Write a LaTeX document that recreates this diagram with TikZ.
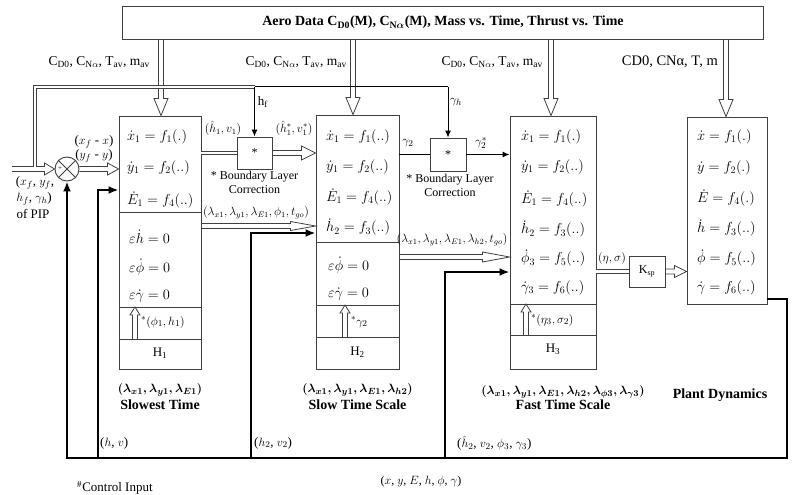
\documentclass[tikz,border=0pt]{standalone}
\usepackage{fontspec}
\setmainfont{Liberation Serif}
\usetikzlibrary{calc,arrows.meta}
\newcommand\HArr[4]{\draw[hol] let \p1=(#1), \p2=(#2) in (\x1,\y2+2.5pt) -- (\x2-#4,\y2+2.5pt) -- (\x2-#4,\y2+#3) -- (\x2,\y2) -- (\x2-#4,\y2-#3) -- (\x2-#4,\y2-2.5pt) -- (\x1,\y2-2.5pt);}
\newcommand\DArr[4]{\draw[hol] let \p1=(#1), \p2=(#2) in (\x2-2.5pt,\y1) -- (\x2-2.5pt,\y2+#4) -- (\x2-#3,\y2+#4) -- (\x2,\y2) -- (\x2+#3,\y2+#4) -- (\x2+2.5pt,\y2+#4) -- (\x2+2.5pt,\y1);}
\newcommand\UArr[4]{\draw[hol] let \p1=(#1), \p2=(#2) in (\x2-2.5pt,\y1) -- (\x2-2.5pt,\y2-#4) -- (\x2-#3,\y2-#4) -- (\x2,\y2) -- (\x2+#3,\y2-#4) -- (\x2+2.5pt,\y2-#4) -- (\x2+2.5pt,\y1);}
\tikzset{
 box/.style={draw=black!75, line width=0.9pt, inner sep=0pt},
 hol/.style={draw=black!75, line width=0.8pt, fill=none},
 dbl/.style={draw=black!75, double=white, double distance=2.5pt, line width=0.8pt},
 thinl/.style={draw=black, line width=1pt},
 fb/.style={draw=black, line width=2.2pt},
 eq/.style={anchor=west, inner sep=0pt, font=\fontsize{14.5}{16}\selectfont},
 lbl/.style={inner sep=0pt, font=\fontsize{12}{14}\selectfont},
 lbm/.style={inner sep=0pt, font=\fontsize{13}{15}\selectfont},
 bl/.style={inner sep=0pt, font=\fontsize{14}{16}\selectfont\bfseries\boldmath},
 blm/.style={inner sep=0pt, font=\fontsize{13}{15}\selectfont\bfseries\boldmath},
 tip/.style={-{Latex[length=7pt,width=6pt]}},
 ftip/.style={-{Latex[length=10pt,width=8pt]}},
}
\begin{document}
\begin{tikzpicture}[x=1pt,y=-1pt]
\useasboundingbox (0,0) rectangle (801,495);
% main boxes
\node[box, minimum width=641pt, minimum height=33pt, font=\fontsize{14}{16}\selectfont\bfseries\boldmath] (aero) at (443,22.5) {Aero Data C\textsubscript{D0}(M), C\textsubscript{N$\alpha$}(M), Mass vs. Time, Thrust vs. Time};
\node[box, minimum width=82pt, minimum height=253pt] (H1) at (160,242.5) {};
\node[box, minimum width=83pt, minimum height=254pt] (H2) at (357.5,242) {};
\node[box, minimum width=86pt, minimum height=253pt] (H3) at (553,242.5) {};
\node[box, minimum width=80pt, minimum height=187pt] (P) at (727,210.5) {};
\node[box, minimum width=35pt, minimum height=32pt, font=\fontsize{12}{14}\selectfont] (B1) at (254.5,153) {*};
\node[box, minimum width=36pt, minimum height=33pt, font=\fontsize{12}{14}\selectfont] (B2) at (448,154.5) {*};
\node[box, minimum width=36pt, minimum height=31pt, font=\fontsize{12}{14}\selectfont] (K) at (647,271.5) {K\textsubscript{sp}};
\node[box, circle, minimum size=24pt] (sum) at (67,169) {};
\draw[box] (sum.north east) -- (sum.south west) (sum.north west) -- (sum.south east);
\node[inner sep=0pt, font=\fontsize{7}{8}\selectfont] (plus) at (60,169) {+};
% separators
\foreach \yy in {212,307,339} \draw[box] (H1.west |- 0,\yy) -- (H1.east |- 0,\yy);
\foreach \yy in {242,305,337} \draw[box] (H2.west |- 0,\yy) -- (H2.east |- 0,\yy);
\foreach \yy in {304,335} \draw[box] (H3.west |- 0,\yy) -- (H3.east |- 0,\yy);
% H1 contents
\node[eq] (h1a) at (127,137) {$\dot{x}_1 = f_1(.)$};
\node[eq] (h1b) at (127,168) {$\dot{y}_1 = f_2(..)$};
\node[eq] (h1c) at (127,200) {$\dot{E}_1 = f_4(..)$};
\node[eq] (h1d) at (129,237) {$\varepsilon\dot{h} = 0$};
\node[eq] (h1e) at (129,267) {$\varepsilon\dot{\phi} = 0$};
\node[eq] (h1f) at (129,296) {$\varepsilon\dot{\gamma} = 0$};
\node[lbm, anchor=west] (h1u) at (141,322) {$^*(\phi_1, h_1)$};
\node[lbm] (h1n) at (160,353) {H\textsubscript{1}};
% H2 contents
\node[eq] (h2a) at (326,137) {$\dot{x}_1 = f_1(..)$};
\node[eq] (h2b) at (326,167) {$\dot{y}_1 = f_2(..)$};
\node[eq] (h2c) at (326,197) {$\dot{E}_1 = f_4(..)$};
\node[eq] (h2d) at (326,227) {$\dot{h}_2 = f_3(..)$};
\node[eq] (h2e) at (328,265) {$\varepsilon\dot{\phi} = 0$};
\node[eq] (h2f) at (328,294) {$\varepsilon\dot{\gamma} = 0$};
\node[lbm, anchor=west] (h2u) at (351,322) {$^*\gamma_2$};
\node[lbm] (h2n) at (357.5,352) {H\textsubscript{2}};
% H3 contents
\node[eq] (h3a) at (521,137) {$\dot{x}_1 = f_1(.)$};
\node[eq] (h3b) at (521,167) {$\dot{y}_1 = f_2(..)$};
\node[eq] (h3c) at (521,199) {$\dot{E}_1 = f_4(..)$};
\node[eq] (h3d) at (521,229) {$\dot{h}_2 = f_3(..)$};
\node[eq] (h3e) at (521,258) {$\dot{\phi}_3 = f_5(..)$};
\node[eq] (h3f) at (521,288) {$\dot{\gamma}_3 = f_6(..)$};
\node[lbm, anchor=west] (h3u) at (531,320) {$^*(\eta_3, \sigma_2)$};
\node[lbm] (h3n) at (553,349) {H\textsubscript{3}};
% plant contents
\node[eq] (pa) at (697,137) {$\dot{x} = f_1(.)$};
\node[eq] (pb) at (697,168) {$\dot{y} = f_2(.)$};
\node[eq] (pc) at (697,198) {$\dot{E} = f_4(.)$};
\node[eq] (pd) at (697,228) {$\dot{h} = f_3(..)$};
\node[eq] (pe) at (697,258) {$\dot{\phi} = f_5(..)$};
\node[eq] (pf) at (697,288) {$\dot{\gamma} = f_6(..)$};
% subtitles
\node[blm] (s1a) at (160,390) {$(\lambda_{x1}, \lambda_{y1}, \lambda_{E1})$};
\node[bl] (s1b) at (160,405) {Slowest Time};
\node[blm] (s2a) at (357.5,390) {$(\lambda_{x1}, \lambda_{y1}, \lambda_{E1}, \lambda_{h2})$};
\node[bl] (s2b) at (357.5,405) {Slow Time Scale};
\node[blm] (s3a) at (563,392) {$(\lambda_{x1}, \lambda_{y1}, \lambda_{E1}, \lambda_{h2}, \lambda_{\phi3}, \lambda_{\gamma3})$};
\node[bl] (s3b) at (563,405) {Fast Time Scale};
\node[bl] (s4) at (720,395) {Plant Dynamics};
% aero arrows
\coordinate (t1) at (161,0 |- H1.north);
\coordinate (t2) at (353,0 |- H2.north);
\coordinate (t3) at (551,0 |- H3.north);
\coordinate (t4) at (726,0 |- P.north);
\DArr{aero.south -| t1}{t1}{7pt}{17pt}
\DArr{aero.south -| t2}{t2}{7pt}{17pt}
\DArr{aero.south -| t3}{t3}{7pt}{17pt}
\DArr{aero.south -| t4}{t4}{7pt}{17pt}
\node[lbm, anchor=east, font=\fontsize{13.5}{15}\selectfont] (c1) at (150,62) {C\textsubscript{D0}, C\textsubscript{N$\alpha$}, T\textsubscript{av}, m\textsubscript{av}};
\node[lbm, anchor=east, font=\fontsize{13.5}{15}\selectfont] (c2) at (347,62) {C\textsubscript{D0}, C\textsubscript{N$\alpha$}, T\textsubscript{av}, m\textsubscript{av}};
\node[lbm, anchor=east, font=\fontsize{13.5}{15}\selectfont] (c3) at (543,62) {C\textsubscript{D0}, C\textsubscript{N$\alpha$}, T\textsubscript{av}, m\textsubscript{av}};
\node[lbm, anchor=east, font=\fontsize{14.5}{16}\selectfont] (c4) at (718,62) {CD0, CNα, T, m};
% input
\coordinate (pip) at (12,169);
\HArr{pip}{sum.west}{6pt}{10pt}
\HArr{sum.east}{H1.west |- sum.east}{6pt}{11pt}
\node[lbm] (pip1) at (35,183) {($x_f$, $y_f$,};
\node[lbm] (pip2) at (34,199) {$h_f$, $\gamma_h$)};
\node[lbm] (pip3) at (33,214) {of PIP};
\node[lbm] (e1) at (94,142) {($x_f$ - $x$)};
\node[lbm] (e2) at (94,156) {($y_f$ - $y$)};
% double feedback of PIP data
\coordinate (dA) at (35,166.5);
\coordinate (dB) at (35,87);
\coordinate (hfc) at (B1.north |- dB);
\coordinate (ghc) at (B2.north |- dB);
\draw[dbl] (dA) -- (dB) -- (hfc);
\draw[thinl] (hfc) -- (ghc);
\draw[thinl, tip] (hfc) -- (B1.north);
\draw[thinl, tip] (ghc) -- (B2.north);
\node[lbm] (hf) at (263,102) {h\textsubscript{f}};
\node[lbm] (gh) at (456,102) {$\gamma_h$};
% boundary layer 1
\draw[dbl] (H1.east |- B1.west) -- (B1.west);
\HArr{B1.east}{H2.west |- B1.east}{7pt}{14pt}
\node[lbl] (bl1a) at (223,128) {$(\hat{h}_1, v_1)$};
\node[lbl] (bl1b) at (294,128) {$(\hat{h}_1^*, v_1^*)$};
\node[lbl] (bl1c) at (254.5,177) {* Boundary Layer};
\node[lbl] (bl1d) at (254.5,190) {Correction};
\node[lbl] (lm1) at (256,213) {$(\lambda_{x1}, \lambda_{y1}, \lambda_{E1}, \phi_1, t_{go})$};
\HArr{H1.east |- 0,226}{H2.west |- 0,226}{4.5pt}{25pt}
% boundary layer 2
\draw[thinl] (H2.east |- B2.west) -- (B2.west);
\draw[thinl, tip] (B2.east) -- (H3.west |- B2.east);
\node[lbm] (g2) at (408,143) {$\gamma_2$};
\node[lbm] (g2s) at (481,143) {$\gamma_2^*$};
\node[lbl] (bl2c) at (450,180) {* Boundary Layer};
\node[lbl] (bl2d) at (450,193) {Correction};
\node[lbl] (lm2) at (452,240) {$(\lambda_{x1}, \lambda_{y1}, \lambda_{E1}, \lambda_{h2}, t_{go})$};
\HArr{H2.east |- 0,257}{H3.west |- 0,257}{5pt}{27pt}
% K
\draw[dbl] (H3.east |- K.west) -- (K.west);
\HArr{K.east}{P.west |- K.east}{6pt}{12pt}
\node[lbl] (es) at (612,258) {$(\eta, \sigma)$};
% inner up arrows
\coordinate (u1t) at (135,307); \coordinate (u1b) at (135,339);
\coordinate (u2t) at (345,305); \coordinate (u2b) at (345,337);
\coordinate (u3t) at (526,304); \coordinate (u3b) at (526,335);
\UArr{u1b}{u1t}{5pt}{8pt}
\UArr{u2b}{u2t}{5pt}{8pt}
\UArr{u3b}{u3t}{5pt}{8pt}
% thick feedback
\coordinate (f1) at (P.east |- 0,299);
\coordinate (f2) at (787,299);
\coordinate (f3) at (787,458);
\coordinate (f4) at (sum.south |- f3);
\draw[fb, ftip] (f1) -- (f2) -- (f3) -- (f4) -- (sum.south);
\coordinate (b1) at (98,458); \coordinate (b1t) at (98,190);
\coordinate (b2) at (251,458); \coordinate (b2t) at (251,233);
\coordinate (b3) at (445,458); \coordinate (b3t) at (445,272);
\draw[fb, ftip] (b1) -- (b1t) -- (H1.west |- b1t);
\draw[fb, ftip] (b2) -- (b2t) -- (H2.west |- b2t);
\draw[fb, ftip] (b3) -- (b3t) -- (H3.west |- b3t);
\node[lbm, anchor=west] (fbl1) at (100,443) {($h$, $v$)};
\node[lbm, anchor=west] (fbl2) at (254,443) {($h_2$, $v_2$)};
\node[lbm, anchor=west] (fbl3) at (457,443) {($\hat{h}_2$, $v_2$, $\phi_3$, $\gamma_3$)};
\node[lbl] (state) at (421,482) {($x$, $y$, $E$, $h$, $\phi$, $\gamma$)};
\node[lbm, anchor=west] (ctrl) at (77,488) {\textsuperscript{\#}Control Input};
\end{tikzpicture}
\end{document}
